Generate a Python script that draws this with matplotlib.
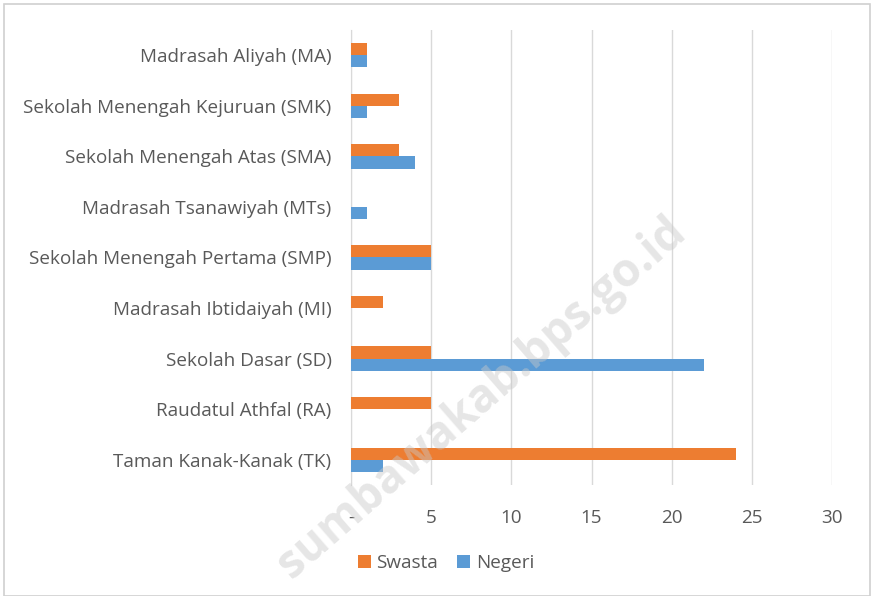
import matplotlib.pyplot as plt
import numpy as np

plt.rcParams['font.family'] = ['Open Sans', 'DejaVu Sans']

categories = ['Madrasah Aliyah (MA)', 'Sekolah Menengah Kejuruan (SMK)',
              'Sekolah Menengah Atas (SMA)', 'Madrasah Tsanawiyah (MTs)',
              'Sekolah Menengah Pertama (SMP)', 'Madrasah Ibtidaiyah (MI)',
              'Sekolah Dasar (SD)', 'Raudatul Athfal (RA)', 'Taman Kanak-Kanak (TK)']
swasta = [1, 3, 3, 0, 5, 2, 5, 5, 24]
negeri = [1, 1, 4, 1, 5, 0, 22, 0, 2]
xticks = [0, 5, 10, 15, 20, 25, 30]
xticklabels = ['-', '5', '10', '15', '20', '25', '30']

orange = '#ED7D31'
blue = '#5B9BD5'
txt = '#595959'

fig = plt.figure(figsize=(8.73, 5.96), dpi=100)
ax = fig.add_axes([351/873, 1-485/596, (832-351)/873, 455/596])

y = np.arange(len(categories))
h = 0.24
ax.barh(y - h/2, swasta, height=h, color=orange, label='Swasta', zorder=3)
ax.barh(y + h/2, negeri, height=h, color=blue, label='Negeri', zorder=3)

ax.set_ylim(len(categories) - 0.5, -0.5)
ax.set_xlim(0, 30)
ax.set_yticks(y)
ax.set_yticklabels(categories, fontsize=13.6, color=txt)
ax.set_xticks(xticks)
ax.set_xticklabels(xticklabels, fontsize=13.6, color=txt)
ax.tick_params(length=0, pad=14)
ax.tick_params(axis='x', pad=17)
ax.grid(axis='x', color='#d9d9d9', linewidth=1, zorder=0)
for s in ['top', 'right', 'bottom']:
    ax.spines[s].set_visible(False)
ax.spines['left'].set_color('#d9d9d9')

leg = fig.legend(loc='center', bbox_to_anchor=(446/873, 1-563/596), ncol=2,
                 frameon=False, fontsize=13.6, handlelength=0.7, handleheight=0.7,
                 columnspacing=1.0, handletextpad=0.3)
for t in leg.get_texts():
    t.set_color(txt)

# outer frame
fig.patches.append(plt.Rectangle((4/873, 0), 866/873, 1-4/596, transform=fig.transFigure,
                                 fill=False, edgecolor='#d0d0d0', linewidth=1.2))

# watermark
fig.text(482/873, 1-398/596, 'sumbawakab.bps.go.id', fontsize=33, fontweight='bold',
         color='#c8c8c8', alpha=0.45, rotation=41, ha='center', va='center', zorder=10)

fig.savefig('out.png', dpi=100)
